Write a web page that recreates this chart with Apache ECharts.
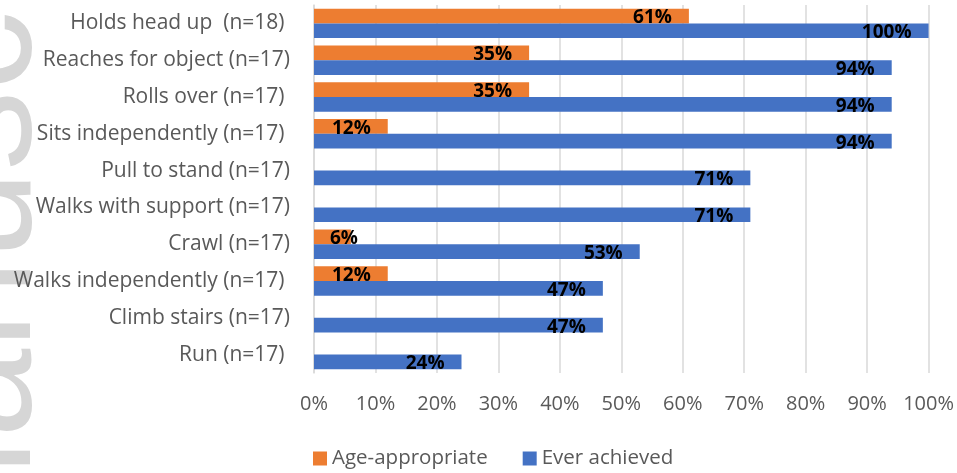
<!DOCTYPE html>
<html>
<head>
<meta charset="utf-8">
<title>Motor milestones</title>
<script src="https://cdn.jsdelivr.net/npm/echarts@6/dist/echarts.min.js"></script>
<style>
  html, body { margin: 0; padding: 0; background: #ffffff; }
  #chart { width: 957px; height: 473px; }
</style>
</head>
<body>
<div id="chart"></div>
<script>
// Milestones, top to bottom (trailing spaces kept as in the source labels)
const milestones = [
  'Holds head up  (n=18) ',
  'Reaches for object (n=17)',
  'Rolls over (n=17) ',
  'Sits independently (n=17) ',
  'Pull to stand (n=17)',
  'Walks with support (n=17)',
  'Crawl (n=17)',
  'Walks independently (n=17) ',
  'Climb stairs (n=17)',
  'Run (n=17) '
];

// Percent of children reaching each milestone
const ageAppropriate = [61, 35, 35, 12, null, null, 6, 12, null, null];
const everAchieved   = [100, 94, 94, 94, 71, 71, 53, 47, 47, 24];

const seriesNames = ['Age-appropriate', 'Ever achieved'];
const xTicks = [0, 10, 20, 30, 40, 50, 60, 70, 80, 90, 100];

const ORANGE = '#ED7D31';
const BLUE = '#4472C4';
const FONT = '"Open Sans", "DejaVu Sans", sans-serif';

// Value labels sit just inside the bar end; very short bars get them from the left
function toItems(values) {
  return values.map(v => {
    if (v === null) return '-';
    if (v < 10) {
      return { value: v, label: { position: 'insideLeft', distance: 16 } };
    }
    return v;
  });
}

const barLabel = {
  show: true,
  position: 'insideRight',
  distance: 17,
  offset: [0, 2],
  formatter: p => p.value + '%',
  color: '#000000',
  fontFamily: FONT,
  fontWeight: 'bold',
  fontSize: 19
};

const chart = echarts.init(document.getElementById('chart'), null, { renderer: 'canvas' });

chart.setOption({
  animation: false,
  backgroundColor: '#ffffff',
  graphic: [{
    type: 'text',
    x: 66,
    y: 571,
    rotation: Math.PI / 2,
    silent: true,
    z: -10,
    style: {
      text: 'Manuscript',
      font: '160px "Liberation Sans", sans-serif',
      fill: '#d6d6d6',
      textAlign: 'left',
      textVerticalAlign: 'bottom'
    }
  }],
  grid: { left: 314, right: 28, top: 5, bottom: 100, containLabel: false },
  legend: {
    data: seriesNames,
    left: 308,
    top: 443,
    itemWidth: 14,
    itemHeight: 14,
    itemGap: 35,
    icon: 'rect',
    textStyle: { color: '#595959', fontFamily: FONT, fontSize: 20.5 }
  },
  xAxis: {
    type: 'value',
    min: 0,
    max: 100,
    interval: 10,
    axisLine: { show: false },
    axisTick: { show: false },
    splitLine: { show: true, lineStyle: { color: '#d9d9d9', width: 1.5 } },
    axisLabel: {
      margin: 21,
      color: '#595959',
      fontFamily: FONT,
      fontSize: 20,
      formatter: v => (xTicks.includes(v) ? v + '%' : '')
    }
  },
  yAxis: {
    type: 'category',
    data: milestones,
    inverse: true,
    axisLine: { show: true, lineStyle: { color: '#d9d9d9', width: 1.5 } },
    axisTick: { show: false },
    axisLabel: {
      margin: 24,
      color: '#595959',
      fontFamily: FONT,
      fontSize: 21
    }
  },
  series: [
    {
      name: seriesNames[0],
      type: 'bar',
      data: toItems(ageAppropriate),
      itemStyle: { color: ORANGE },
      barGap: '0%',
      barCategoryGap: '20%',
      label: barLabel
    },
    {
      name: seriesNames[1],
      type: 'bar',
      data: toItems(everAchieved),
      itemStyle: { color: BLUE },
      barGap: '0%',
      barCategoryGap: '20%',
      label: barLabel
    }
  ]
});
</script>
</body>
</html>
